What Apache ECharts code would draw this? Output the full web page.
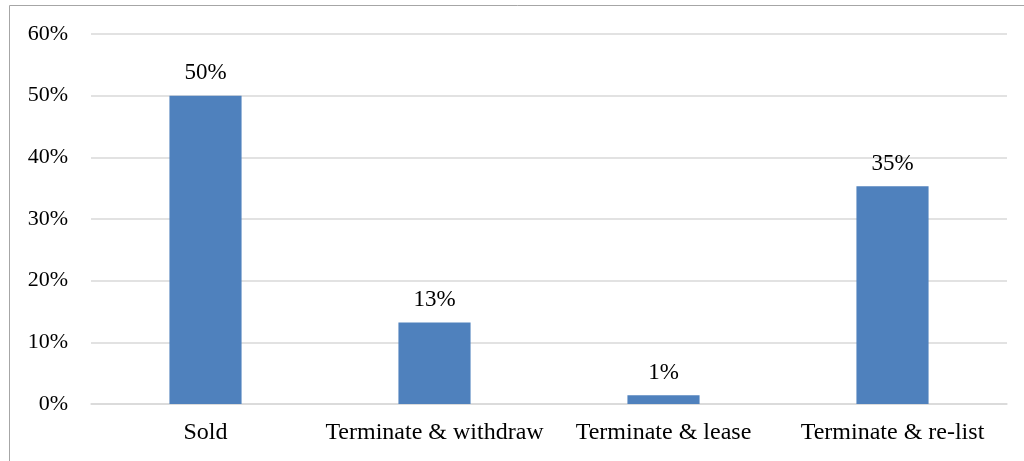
<!DOCTYPE html>
<html>
<head>
<meta charset="utf-8">
<script src="https://cdn.jsdelivr.net/npm/echarts@6/dist/echarts.min.js"></script>
<style>
  html, body { margin: 0; padding: 0; background: #ffffff; }
  #chart { width: 1024px; height: 461px; }
</style>
</head>
<body>
<div id="chart"></div>
<script>
// Listing outcomes (share of listings, %)
const categories = ['Sold', 'Terminate & withdraw', 'Terminate & lease', 'Terminate & re-list'];
const shares = [50.0, 13.2, 1.4, 35.3];
const yTicks = [0, 10, 20, 30, 40, 50, 60];

const chart = echarts.init(document.getElementById('chart'));
const font = '"Liberation Serif", "Times New Roman", serif';

chart.setOption({
  animation: false,
  backgroundColor: '#ffffff',
  graphic: [{
    type: 'rect',
    shape: { x: 9.5, y: 5.5, width: 1100, height: 600 },
    style: { fill: 'none', stroke: '#a6a6a6', lineWidth: 1 },
    silent: true
  }],
  grid: { left: 91, right: 17, top: 34, bottom: 57 },
  xAxis: {
    type: 'category',
    data: categories,
    axisTick: { show: false },
    axisLine: { show: true, lineStyle: { color: '#d9d9d9', width: 1.5 } },
    axisLabel: { color: '#000000', fontFamily: font, fontSize: 24, margin: 17, interval: 0 }
  },
  yAxis: {
    type: 'value',
    min: yTicks[0],
    max: yTicks[yTicks.length - 1],
    interval: 10,
    axisLine: { show: false },
    axisTick: { show: false },
    splitLine: { lineStyle: { color: '#d9d9d9', width: 1.5 } },
    axisLabel: {
      color: '#000000', fontFamily: font, fontSize: 22, margin: 23,
      formatter: v => v + '%'
    }
  },
  series: [{
    type: 'bar',
    data: shares,
    barWidth: '31.5%',
    itemStyle: { color: '#4f81bd' },
    label: {
      show: true,
      position: 'top',
      distance: 11,
      color: '#000000',
      fontFamily: font,
      fontSize: 23,
      formatter: p => Math.round(p.value) + '%'
    }
  }]
});
</script>
</body>
</html>
